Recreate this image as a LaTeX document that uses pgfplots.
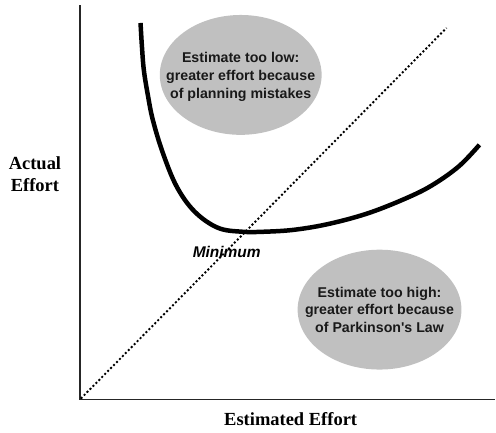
\documentclass[border=0pt]{standalone}
\usepackage{pgfplots}
\pgfplotsset{compat=1.18}
\usepackage{fontspec}
\setmainfont{Liberation Serif}
\newfontfamily\arial{Liberation Sans}
\definecolor{ellgray}{RGB}{192,192,192}
\begin{document}
\begin{tikzpicture}
\begin{axis}[
  scale only axis, width=416pt, height=395pt,
  xmin=0, xmax=416, ymin=0, ymax=395,
  axis x line=bottom, axis y line=left,
  axis line style={-, line width=1.2pt, black!85},
  xtick=\empty, ytick=\empty, clip=false]
\path (axis cs:-80,-33) rectangle (axis cs:416,400);
\fill[ellgray] (axis cs:161,325) ellipse [x radius=81pt, y radius=60pt];
\fill[ellgray] (axis cs:300,90) ellipse [x radius=82pt, y radius=60pt];
\node[align=center, font=\arial\bfseries\fontsize{14.2}{18}\selectfont, text=black!90] at (axis cs:161,323) {Estimate too low:\\greater effort because\\of planning mistakes};
\node[align=center, font=\arial\bfseries\fontsize{14.2}{17.5}\selectfont, text=black!90] at (axis cs:300,90) {Estimate too high:\\greater effort because\\of Parkinson's Law};
\addplot[black, line width=1.9pt, dash pattern=on 2pt off 2.2pt] coordinates {(1,1) (367,372)};
\addplot[black, line width=4.5pt, smooth, tension=0.6] coordinates {
 (60.7,377) (62,355) (64,330) (68,305) (73,280) (83,247) (97,213) (115,188)
 (138,172) (162,168) (185,168) (215,170) (250,176) (290,187) (330,203) (355,216) (380,234) (400,255)};
\node[font=\arial\bfseries\itshape\fontsize{15.5}{18}\selectfont] at (axis cs:147,148) {Minimum};
\node[align=center, font=\bfseries\fontsize{18.5}{22}\selectfont] at (axis cs:-45,226) {Actual\\Effort};
\node[font=\bfseries\fontsize{18.5}{22}\selectfont] at (axis cs:211,-20) {Estimated Effort};
\end{axis}
\end{tikzpicture}
\end{document}
